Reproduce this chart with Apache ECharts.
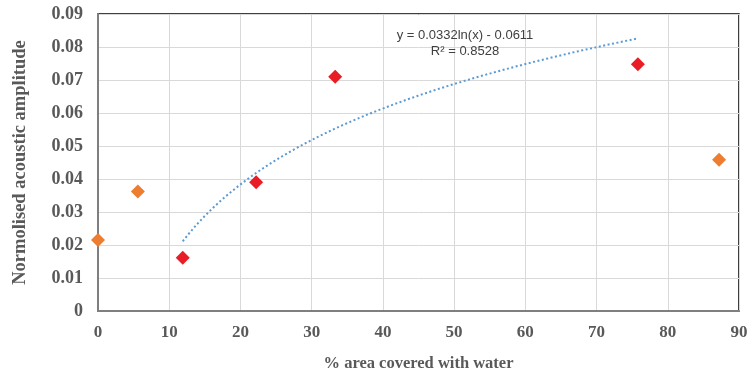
<!DOCTYPE html>
<html>
<head>
<meta charset="utf-8">
<script src="https://cdn.jsdelivr.net/npm/echarts@6/dist/echarts.min.js"></script>
<style>
  html, body { margin: 0; padding: 0; background: #fff; }
  #chart { width: 751px; height: 373px; }
</style>
</head>
<body>
<div id="chart"></div>
<script>
// Samples excluded from the fit (orange)
const otherX = [0, 5.6, 87.2];
const otherY = [0.0215, 0.0362, 0.0458];

// Samples used for the logarithmic fit (red)
const fitX = [11.9, 22.2, 33.3, 75.8];
const fitY = [0.0161, 0.0390, 0.0710, 0.0748];

// Logarithmic trendline coefficients: y = a ln(x) + b
const trendA = 0.0332;
const trendB = -0.0611;
const trendLabel = 'y = 0.0332ln(x) - 0.0611';
const r2Label = 'R² = 0.8528';

const xTicks = [0, 10, 20, 30, 40, 50, 60, 70, 80, 90];
const yTicks = [0, 0.01, 0.02, 0.03, 0.04, 0.05, 0.06, 0.07, 0.08, 0.09];

// Trendline evaluated across the range of the fitted samples
const xStart = Math.min(...fitX), xEnd = Math.max(...fitX);
const trendPts = [];
for (let i = 0; i <= 60; i++) {
  const x = xStart + (xEnd - xStart) * i / 60;
  trendPts.push([x, trendA * Math.log(x) + trendB]);
}

const chart = echarts.init(document.getElementById('chart'), null, { renderer: 'canvas' });
const serif = '"Liberation Serif", "DejaVu Serif", serif';

chart.setOption({
  animation: false,
  grid: {
    left: 98, right: 12, top: 14, bottom: 62,
    containLabel: false, outerBoundsMode: 'none',
    show: true, borderColor: '#000', borderWidth: 1.5, backgroundColor: '#fff'
  },
  xAxis: {
    type: 'value', min: xTicks[0], max: xTicks[xTicks.length - 1], interval: 10,
    name: '% area covered with water', nameLocation: 'middle', nameGap: 44,
    nameTextStyle: { fontFamily: serif, fontWeight: 'bold', fontSize: 16.5, color: '#595959' },
    axisLine: { show: true, lineStyle: { color: '#7f7f7f', width: 2 } },
    axisTick: { show: false },
    axisLabel: { fontFamily: serif, fontWeight: 'bold', fontSize: 17, color: '#595959', margin: 13 },
    splitLine: { show: true, lineStyle: { color: '#d9d9d9', width: 1 } }
  },
  yAxis: {
    type: 'value', min: yTicks[0], max: yTicks[yTicks.length - 1], interval: 0.01,
    name: 'Normolised acoustic amplitude', nameLocation: 'middle', nameGap: 68,
    nameTextStyle: { fontFamily: serif, fontWeight: 'bold', fontSize: 18.5, color: '#595959' },
    axisLine: { show: true, lineStyle: { color: '#7f7f7f', width: 2 } },
    axisTick: { show: false },
    axisLabel: {
      fontFamily: serif, fontWeight: 'bold', fontSize: 18, color: '#595959', margin: 15,
      formatter: v => (v === 0 ? '0' : v.toFixed(2))
    },
    splitLine: { show: true, lineStyle: { color: '#d9d9d9', width: 1 } }
  },
  series: [
    {
      type: 'line', data: trendPts, showSymbol: false, smooth: false,
      lineStyle: { color: '#5b9bd5', width: 2, type: [2, 2.5] }, z: 2
    },
    {
      type: 'scatter', data: otherX.map((x, i) => [x, otherY[i]]),
      symbol: 'diamond', symbolSize: [14, 14],
      itemStyle: { color: '#ed7d31', opacity: 1 }, z: 3
    },
    {
      type: 'scatter', data: fitX.map((x, i) => [x, fitY[i]]),
      symbol: 'diamond', symbolSize: [14, 14],
      itemStyle: { color: '#e81d25', opacity: 1 }, z: 3
    }
  ],
  graphic: [
    {
      type: 'text', z: 10,
      style: {
        x: 465, y: 35, text: trendLabel, textAlign: 'center', textVerticalAlign: 'middle',
        font: '13px "Liberation Sans", Arial, sans-serif', fill: '#404040'
      }
    },
    {
      type: 'text', z: 10,
      style: {
        x: 465, y: 51, text: r2Label, textAlign: 'center', textVerticalAlign: 'middle',
        font: '13px "Liberation Sans", Arial, sans-serif', fill: '#404040'
      }
    }
  ]
});
</script>
</body>
</html>
